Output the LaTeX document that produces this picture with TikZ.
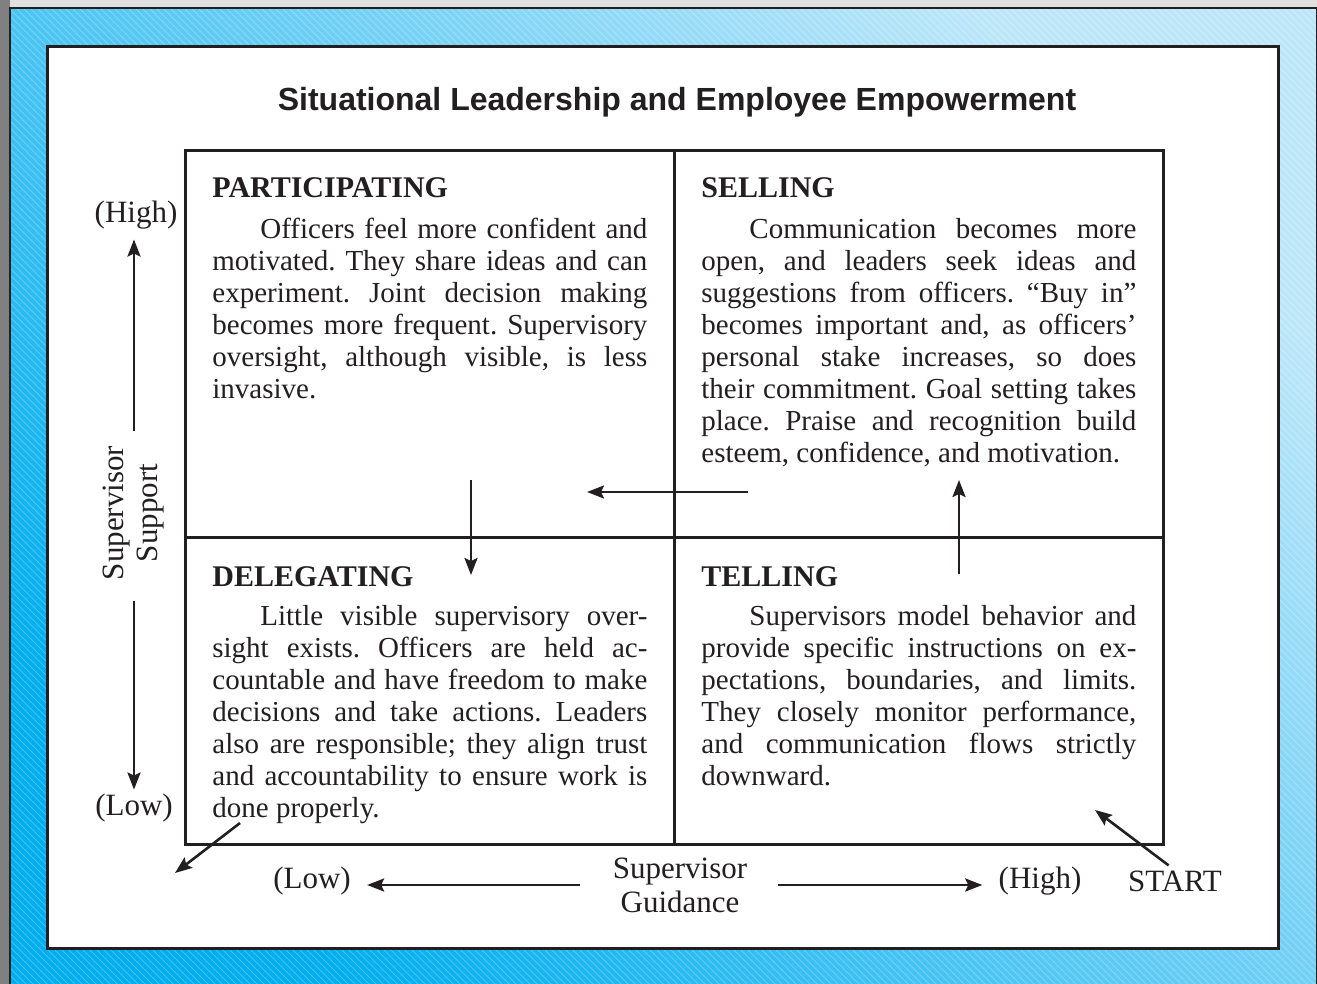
\documentclass[tikz,border=0pt]{standalone}
\usepackage{fontspec}
\setmainfont{Liberation Serif}
\newfontfamily\titlefont{Liberation Sans}
\usetikzlibrary{arrows.meta}
\frenchspacing
\definecolor{skyhi}{HTML}{BDE7F9}
\definecolor{skymid}{HTML}{86D5F4}
\definecolor{skylo}{HTML}{00AEEF}
\definecolor{inkline}{HTML}{231F20}
\tikzset{
  quadline/.style={line width=1.5pt,draw=inkline},
  arr/.style={-{Stealth[length=8.5pt,width=6.5pt,inset=1.5pt]},line width=1.3pt,draw=inkline},
  axlabel/.style={font=\fontsize{15.5}{17}\selectfont,inner sep=0pt,align=center,text=inkline},
  head/.style={font=\fontsize{15}{17}\selectfont\bfseries,inner sep=0pt,anchor=base west,text=inkline},
  body/.style={font=\fontsize{14.5}{16}\selectfont,inner sep=0pt,text width=217.5pt,
    align=justify,anchor=base west,text=inkline},
}
\begin{document}
\begin{tikzpicture}[x=0.5pt,y=-0.5pt]
    \useasboundingbox (0,0) rectangle (1317,984);
    % frame and background
    \fill[black!12] (0,0) rectangle (1317,984);
    \fill[black!50] (0,0) rectangle (10,984);
    \shade[left color=skylo,middle color=skymid,right color=skyhi,shading angle=135] (10,8) rectangle (1317,984);
    \begin{scope}
    \clip (10,8) rectangle (1317,984);
    \foreach \i in {0,7,...,2400}
      \draw[white,opacity=0.25,line width=0.4pt] (\i-1000,0)--(\i,1000);
    \end{scope}
    \draw[line width=1.2pt,inkline] (10,8) rectangle (1317,986);
    \draw[line width=1.5pt,inkline,fill=white] (47,47) rectangle (1278,948);
    % title
    \node[anchor=base,inner sep=0pt,font=\titlefont\bfseries\fontsize{16}{19}\selectfont,text=inkline] (title) at (677,111)
      {Situational Leadership and Employee Empowerment};
    % quadrants
    \draw[quadline] (185,151) rectangle (1163,844);
    \draw[quadline] (674,151)--(674,844);
    \draw[quadline] (185,537)--(1163,537);
    \node[head] (parthead) at (212,198) {PARTICIPATING};
    \node[body] (parttext) at (212,239) {\hspace*{24pt}Officers feel more confident and\linebreak
      motivated. They share ideas and can\linebreak experiment. Joint decision making\linebreak
      becomes more frequent. Supervisory\linebreak oversight, although visible, is less\linebreak invasive.};
    \node[head] (sellhead) at (701,198) {SELLING};
    \node[body] (selltext) at (701,239) {\hspace*{24pt}Communication becomes more\linebreak
      open, and leaders seek ideas and\linebreak suggestions from officers. “Buy in”\linebreak
      becomes important and, as officers’\linebreak personal stake increases, so does\linebreak
      their commitment. Goal setting takes\linebreak place. Praise and recognition build\linebreak
      esteem, confidence, and motivation.};
    \node[head] (delehead) at (212,586) {DELEGATING};
    \node[body] (deletext) at (212,625) {\hspace*{24pt}Little visible supervisory over-\linebreak
      sight exists. Officers are held ac-\linebreak countable and have freedom to make\linebreak
      decisions and take actions. Leaders\linebreak also are responsible; they align trust\linebreak
      and accountability to ensure work is\linebreak done properly.};
    \node[head] (tellhead) at (701,586) {TELLING};
    \node[body] (telltext) at (701,625) {\hspace*{24pt}Supervisors model behavior and\linebreak
      provide specific instructions on ex-\linebreak pectations, boundaries, and limits.\linebreak
      They closely monitor performance,\linebreak and communication flows strictly\linebreak downward.};
    % flow between quadrants
    \coordinate (selltail) at (748,492);
    \coordinate (sellhead-end) at (587,492);
    \coordinate (parttail) at (471,480);
    \coordinate (parthead-end) at (471,575);
    \coordinate (telltail) at (959,574);
    \coordinate (tellhead-end) at (959,480);
    \coordinate (deletail) at (240,823);
    \coordinate (delehead-end) at (175,873);
    \coordinate (startend) at (1095,810);
    \draw[arr] (telltail)--(tellhead-end);
    \draw[arr] (selltail)--(sellhead-end);
    \draw[arr] (parttail)--(parthead-end);
    \draw[arr] (deletail)--(delehead-end);
    % axes
    \node[axlabel] (suphigh) at (136,215) {(High)};
    \node[axlabel] (suplow) at (134,808) {(Low)};
    \node[axlabel,rotate=90] (support) at (134,513) {Supervisor\\Support};
    \node[axlabel] (guilow) at (312,881) {(Low)};
    \node[axlabel] (guidance) at (680,885) {Supervisor\\Guidance};
    \node[axlabel] (guihigh) at (1040,881) {(High)};
    \node[axlabel] (start) at (1175,881) {START};
    \draw[arr,shorten <=7pt,shorten >=5pt] (support.east)--(support.east|-suphigh.south);
    \draw[arr,shorten <=10pt,shorten >=2pt] (support.west)--(support.west|-suplow.north);
    \draw[arr,shorten <=16pt,shorten >=8pt] (guidance.west)--(guilow.east|-guidance.west);
    \draw[arr,shorten <=15pt,shorten >=8pt] (guidance.east)--(guihigh.west|-guidance.east);
    \draw[arr,shorten <=4pt] (start.north)--(startend);
\end{tikzpicture}
\end{document}
